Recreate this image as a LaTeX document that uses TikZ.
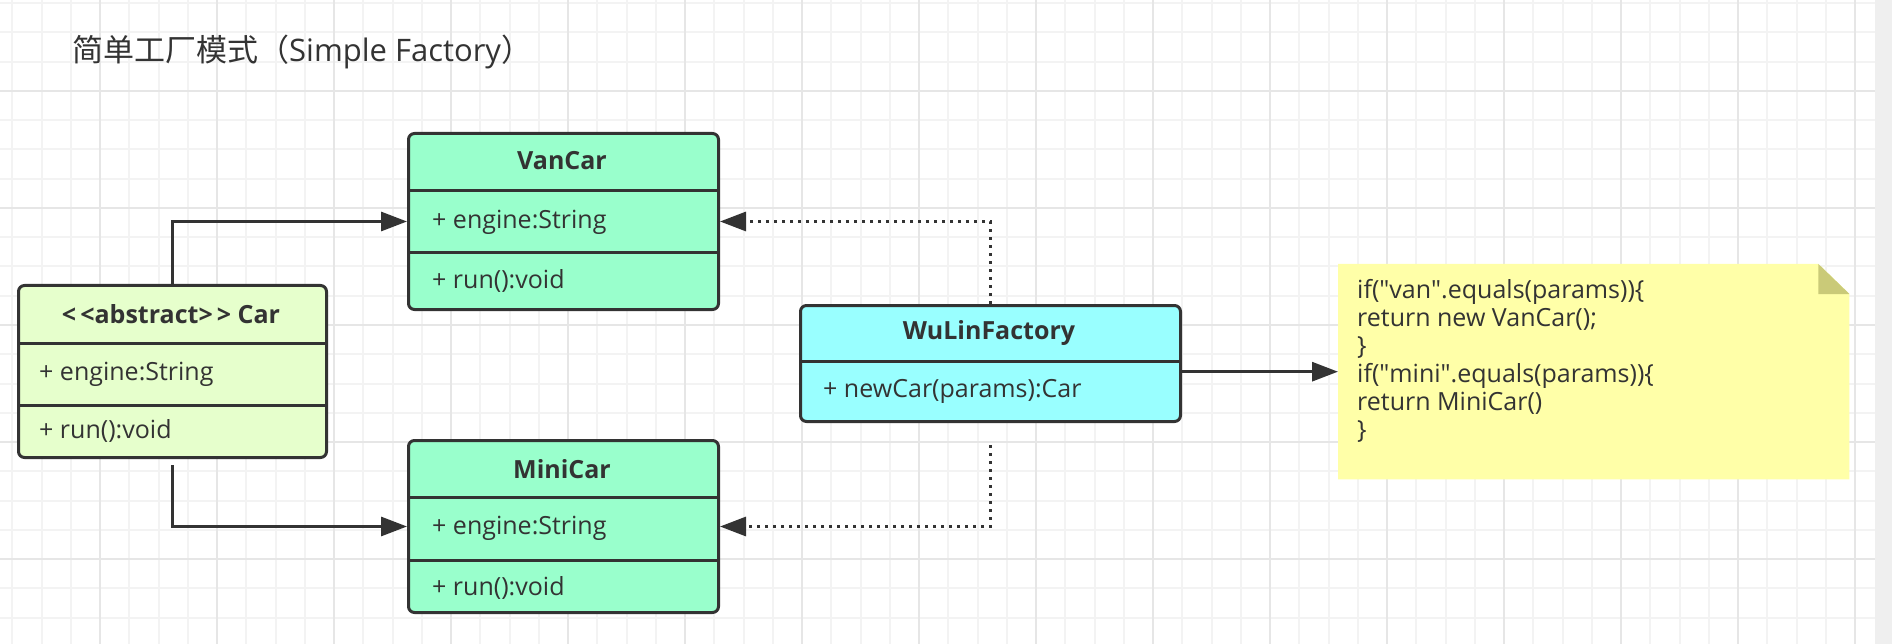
\documentclass[tikz,border=0pt]{standalone}
\usepackage{fontspec}
\setmainfont{Open Sans}
\newfontfamily\cjk{Noto Sans CJK SC}
\usetikzlibrary{arrows.meta}
\definecolor{ink}{HTML}{333333}
\definecolor{gridminor}{HTML}{F3F3F3}
\definecolor{gridmajor}{HTML}{E6E6E6}
\definecolor{stripgray}{HTML}{EFEFEF}
\definecolor{carfill}{HTML}{E6FFCC}
\definecolor{mintfill}{HTML}{99FFCC}
\definecolor{cyanfill}{HTML}{99FFFF}
\definecolor{notefill}{HTML}{FFFFA8}
\definecolor{foldfill}{HTML}{CACA78}
\tikzset{
  classbox/.style={draw=ink, line width=3pt, rounded corners=6pt, anchor=north west, inner sep=0pt},
  divider/.style={draw=ink, line width=3pt},
  hdr/.style={font=\bfseries\fontsize{25}{28}\selectfont, text=ink, inner sep=0pt},
  member/.style={anchor=west, font=\fontsize{25}{28}\selectfont, text=ink, inner sep=0pt},
  conn/.style={draw=ink, line width=3pt, -{Triangle[length=26pt,width=19pt]}},
  dotconn/.style={conn, dash pattern=on 3pt off 5pt},
}
\begin{document}
\begin{tikzpicture}[x=1pt,y=-1pt]
\useasboundingbox (0,0) rectangle (1892,644);
\fill[white] (0,0) rectangle (1875,644);
\fill[stripgray] (1875,0) rectangle (1892,644);
% grid
\foreach \i in {0,...,63} { \draw[gridminor, line width=2pt] ({12.25+29.25*\i},0) -- ({12.25+29.25*\i},644); }
\foreach \j in {0,...,21} { \draw[gridminor, line width=2pt] (0,{3.25+29.25*\j}) -- (1875,{3.25+29.25*\j}); }
\foreach \i in {0,...,15} { \draw[gridmajor, line width=2pt] ({100+117*\i},0) -- ({100+117*\i},644); }
\foreach \j in {0,...,5} { \draw[gridmajor, line width=2pt] (0,{-26+117*\j}) -- (1875,{-26+117*\j}); }

% title
\node[anchor=west, font=\fontsize{31}{34}\selectfont, text=ink, inner sep=0pt] (title) at (72,52) {{\cjk 简单工厂模式（}Simple Factory{\cjk ）}};

% Car
\node[classbox, fill=carfill, minimum width=308pt, minimum height=172pt] (car) at (17,284) {};
\draw[divider] (17,343) -- (325,343);
\draw[divider] (17,405) -- (325,405);
\node[hdr] (cart) at (171,314) {\textless\,\textless abstract\textgreater\,\textgreater\ Car};
\node[member] (care) at (39,374) {+ engine:String};
\node[member] (carr) at (39,431) {+ run():void};

% VanCar
\node[classbox, fill=mintfill, minimum width=310pt, minimum height=176pt] (van) at (407,132) {};
\draw[divider] (407,191) -- (717,191);
\draw[divider] (407,253) -- (717,253);
\node[hdr] (vant) at (562,161) {VanCar};
\node[member] (vane) at (432,222) {+ engine:String};
\node[member] (vanr) at (432,281) {+ run():void};

% MiniCar
\node[classbox, fill=mintfill, minimum width=310pt, minimum height=172pt] (mini) at (407,439) {};
\draw[divider] (407,497) -- (717,497);
\draw[divider] (407,560) -- (717,560);
\node[hdr] (minit) at (562,469) {MiniCar};
\node[member] (minie) at (432,528) {+ engine:String};
\node[member] (minir) at (432,588) {+ run():void};

% WuLinFactory
\node[classbox, fill=cyanfill, minimum width=380pt, minimum height=116pt] (fac) at (799,304) {};
\draw[divider] (799,361) -- (1179,361);
\node[hdr] (fact) at (989,333) {WuLinFactory};
\node[member] (facm) at (823,391) {+ newCar(params):Car};

% note
\node[anchor=north west, inner sep=0pt, minimum width=511pt, minimum height=215pt] (note) at (1338,264) {};
\fill[notefill] (note.north west) -- ([xshift=-31pt]note.north east) -- ([yshift=-30pt]note.north east) -- (note.south east) -- (note.south west) -- cycle;
\fill[foldfill] ([xshift=-31pt]note.north east) -- ([xshift=-31pt,yshift=-30pt]note.north east) -- ([yshift=-30pt]note.north east) -- cycle;
\node[anchor=north west, align=left, inner sep=0pt, text=ink, font=\fontsize{25}{28}\selectfont] (code) at (1357,279)
  {if(\textquotedbl van\textquotedbl.equals(params))\{\\return new VanCar();\\\}\\if(\textquotedbl mini\textquotedbl.equals(params))\{\\return MiniCar()\\\}};

% connectors
\draw[conn] (car.north) |- (van.west);
\draw[conn] ([yshift=-6pt]car.south) |- (mini.west);
\draw[dotconn] (fac.north) |- (van.east);
\draw[dotconn] ([yshift=-22pt]fac.south) |- (mini.east);
\draw[conn] (fac.east |- note.west) -- (note.west);
\end{tikzpicture}
\end{document}
